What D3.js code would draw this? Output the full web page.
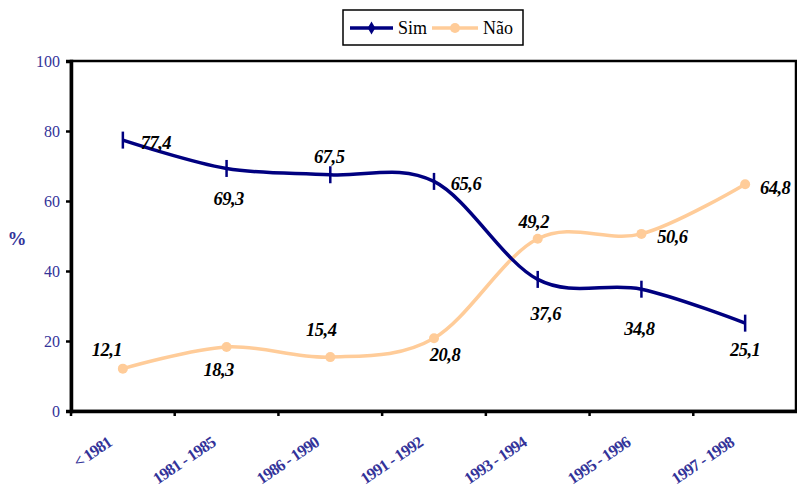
<!DOCTYPE html>
<html>
<head>
<meta charset="utf-8">
<script src="https://cdn.jsdelivr.net/npm/d3@7"></script>
<style>
  html, body { margin: 0; padding: 0; background: #fff; }
  svg { display: block; }
</style>
</head>
<body>
<script>
// ---- data ----
const categories = ["< 1981", "1981 - 1985", "1986 - 1990", "1991 - 1992", "1993 - 1994", "1995 - 1996", "1997 - 1998"];
const simValues = [77.4, 69.3, 67.5, 65.6, 37.6, 34.8, 25.1];
const naoValues = [12.1, 18.3, 15.4, 20.8, 49.2, 50.6, 64.8];
const yTicks = [0, 20, 40, 60, 80, 100];
const seriesNames = ["Sim", "Não"];

// label placement offsets (dx, dy of label centre from point)
const simLabelOffsets = [[33, 2], [2, 30], [-1, -18], [32, 2], [8, 34], [-2, 39], [0, 26]];
const naoLabelOffsets = [[-16, -19], [-8, 23], [-9, -28], [11, 16], [-4, -17], [31, 3], [30, 3]];

const W = 797, H = 489;
const plot = { left: 71, right: 797, top: 61, bottom: 411 };
const simColor = "#000080", naoColor = "#FFCC99", axisText = "#333399";
const SERIF = '"Liberation Serif"';

const svg = d3.select("body").append("svg").attr("width", W).attr("height", H);

const x = d3.scaleBand().domain(categories).range([plot.left, plot.right]).padding(0);
const y = d3.scaleLinear().domain([0, 100]).range([plot.bottom, plot.top]);
const cx = d => x(d) + x.bandwidth() / 2;

// plot border
svg.append("rect")
  .attr("x", plot.left).attr("y", plot.top)
  .attr("width", plot.right - 1 - plot.left).attr("height", plot.bottom - plot.top)
  .attr("fill", "none").attr("stroke", "#000").attr("stroke-width", 2.5);

// y axis
const yAxis = svg.append("g").attr("transform", `translate(${plot.left},0)`)
  .call(d3.axisLeft(y).tickValues(yTicks).tickSize(5).tickPadding(6).tickFormat(d3.format("d")));
yAxis.select(".domain").attr("stroke", "#000").attr("stroke-width", 3.5);
yAxis.selectAll(".tick line").attr("stroke", "#000").attr("stroke-width", 2.5);
yAxis.selectAll(".tick text").attr("fill", axisText)
  .style("font-family", SERIF).style("font-size", "16px");

// x axis (ticks at category boundaries)
const xAxis = svg.append("g").attr("transform", `translate(0,${plot.bottom})`)
  .call(d3.axisBottom(x).tickSize(0).tickFormat(""));
xAxis.select(".domain").attr("stroke", "#000").attr("stroke-width", 3.5);
xAxis.selectAll(".tick").remove();
const boundaries = categories.map(c => x(c));
xAxis.selectAll("line.bt").data(boundaries).enter().append("line")
  .attr("x1", d => d).attr("x2", d => d).attr("y1", 0).attr("y2", 5)
  .attr("stroke", "#000").attr("stroke-width", 2.5);
svg.append("g").selectAll("text").data(categories).enter().append("text")
  .attr("transform", d => `translate(${cx(d) - 10},${plot.bottom + 34}) rotate(-34)`)
  .attr("text-anchor", "end")
  .attr("fill", axisText)
  .style("font-family", SERIF)
  .style("font-size", "16.5px").style("font-weight", "bold").style("letter-spacing", "-0.8px")
  .text(d => d);

// y title
svg.append("text").attr("x", 17).attr("y", 245).attr("text-anchor", "middle")
  .attr("fill", axisText).style("font-family", SERIF).style("font-size", "19px").style("font-weight", "bold")
  .text("%");

// lines
const line = d3.line().x((d, i) => cx(categories[i])).y(d => y(d)).curve(d3.curveCardinal.tension(0));
svg.append("path").datum(naoValues).attr("d", line)
  .attr("fill", "none").attr("stroke", naoColor).attr("stroke-width", 3.5).attr("stroke-linejoin", "round");
svg.append("path").datum(simValues).attr("d", line)
  .attr("fill", "none").attr("stroke", simColor).attr("stroke-width", 3.5).attr("stroke-linejoin", "round");

// markers
svg.append("g").selectAll("circle").data(naoValues).enter().append("circle")
  .attr("cx", (d, i) => cx(categories[i])).attr("cy", d => y(d)).attr("r", 5).attr("fill", naoColor);
svg.append("g").selectAll("line").data(simValues).enter().append("line")
  .attr("x1", (d, i) => cx(categories[i])).attr("x2", (d, i) => cx(categories[i]))
  .attr("y1", d => y(d) - 8.5).attr("y2", d => y(d) + 8.5)
  .attr("stroke", simColor).attr("stroke-width", 2.5);

// data labels
const fmt = v => d3.format(".1f")(v).replace(".", ",");
function labels(values, offsets) {
  svg.append("g").selectAll("text").data(values).enter().append("text")
    .attr("x", (d, i) => cx(categories[i]) + offsets[i][0])
    .attr("y", (d, i) => y(d) + offsets[i][1])
    .attr("dy", "0.35em").attr("text-anchor", "middle")
    .style("font-family", SERIF)
    .style("font-size", "18.5px").style("font-weight", "bold").style("font-style", "italic")
    .attr("fill", "#000").style("letter-spacing", "-0.5px")
    .text(d => fmt(d));
}
labels(simValues, simLabelOffsets);
labels(naoValues, naoLabelOffsets);

// legend
const lg = svg.append("g");
lg.append("rect").attr("x", 343).attr("y", 10).attr("width", 180).attr("height", 35)
  .attr("fill", "#fff").attr("stroke", "#000").attr("stroke-width", 1.5);
const legendItems = [
  { name: seriesNames[0], color: simColor, x0: 350, x1: 393, tx: 398 },
  { name: seriesNames[1], color: naoColor, x0: 432, x1: 478, tx: 483 }
];
legendItems.forEach((it, k) => {
  lg.append("line").attr("x1", it.x0).attr("x2", it.x1).attr("y1", 28).attr("y2", 28)
    .attr("stroke", it.color).attr("stroke-width", 3.5);
  const mx = (it.x0 + it.x1) / 2;
  if (k === 0) {
    lg.append("path").attr("d", d3.symbol().type(d3.symbolDiamond).size(50)())
      .attr("transform", `translate(${mx},28)`).attr("fill", it.color);
  } else {
    lg.append("circle").attr("cx", mx).attr("cy", 28).attr("r", 5).attr("fill", it.color);
  }
  lg.append("text").attr("x", it.tx).attr("y", 28).attr("dy", "0.35em")
    .style("font-family", SERIF).style("font-size", "18px").attr("fill", "#000").text(it.name);
});
</script>
</body>
</html>
